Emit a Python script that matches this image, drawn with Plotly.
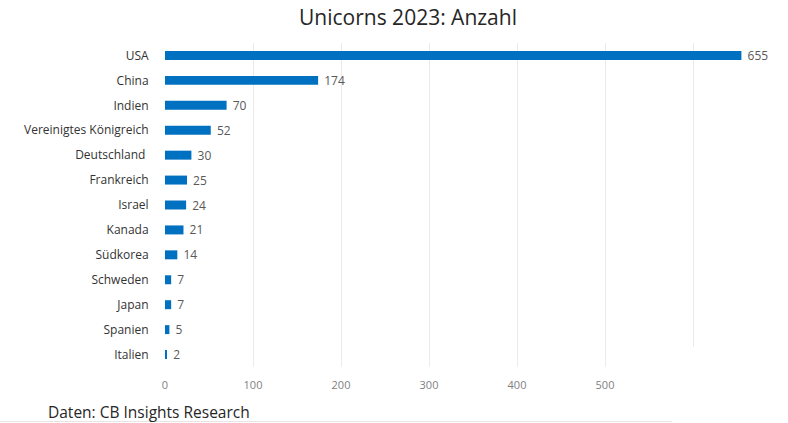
import plotly.graph_objects as go

countries = ["USA", "China", "Indien", "Vereinigtes Königreich", "Deutschland ",
             "Frankreich", "Israel", "Kanada", "Südkorea", "Schweden", "Japan",
             "Spanien", "Italien"]
values = [655, 174, 70, 52, 30, 25, 24, 21, 14, 7, 7, 5, 2]
x_ticks = [0, 100, 200, 300, 400, 500, 600, 700]
x_tick_labels = ["0", "100", "200", "300", "400", "500", "", ""]

FONT = "Open Sans"

fig = go.Figure(go.Bar(
    x=values, y=countries, orientation="h",
    marker=dict(color="#0070C0", line=dict(width=0)),
    width=0.36,
    texttemplate=" %{x}", textposition="outside",
    constraintext="none",
    textfont=dict(family=FONT, size=12, color="#595959"),
    cliponaxis=False,
))

fig.update_layout(
    width=788, height=423,
    margin=dict(l=165, r=7, t=43, b=56),
    paper_bgcolor="white", plot_bgcolor="white",
    showlegend=False,
    title=dict(text="Unicorns 2023: Anzahl", x=408/788, xanchor="center",
               y=1 - 18/423, yanchor="middle",
               font=dict(family=FONT, size=21, color="#262626")),
    xaxis=dict(range=[0, 700], tickvals=x_ticks, ticktext=x_tick_labels,
               showgrid=True, gridcolor="#ebebeb", gridwidth=1,
               zeroline=False, showline=False,
               tickfont=dict(family=FONT, size=11, color="#7f7f7f"),
               ticks="outside", ticklen=8, tickcolor="rgba(0,0,0,0)"),
    yaxis=dict(categoryorder="array", categoryarray=countries, autorange="reversed",
               showgrid=False, zeroline=False, showline=False,
               tickfont=dict(family=FONT, size=12, color="#333333"),
               ticks="outside", ticklen=13, tickcolor="rgba(0,0,0,0)"),
    annotations=[dict(text="Daten: CB Insights Research", xref="paper", yref="paper",
                      x=(47 - 165) / 616, y=(367 - 412) / 324, xanchor="left", yanchor="middle",
                      borderpad=0,
                      showarrow=False, font=dict(family=FONT, size=15.5, color="#262626"))],
    shapes=[
        dict(type="rect", xref="paper", yref="paper",
             x0=(672 - 165) / 616, x1=(790 - 165) / 616,
             y0=(367 - 347) / 324, y1=(367 - 425) / 324,
             fillcolor="white", line=dict(width=0), layer="above"),
        dict(type="line", xref="paper", yref="paper",
             x0=-165 / 616, x1=(672 - 165) / 616,
             y0=(367 - 421.5) / 324, y1=(367 - 421.5) / 324,
             line=dict(color="#e6e6e6", width=1)),
    ],
)

fig.write_html("out.html")
